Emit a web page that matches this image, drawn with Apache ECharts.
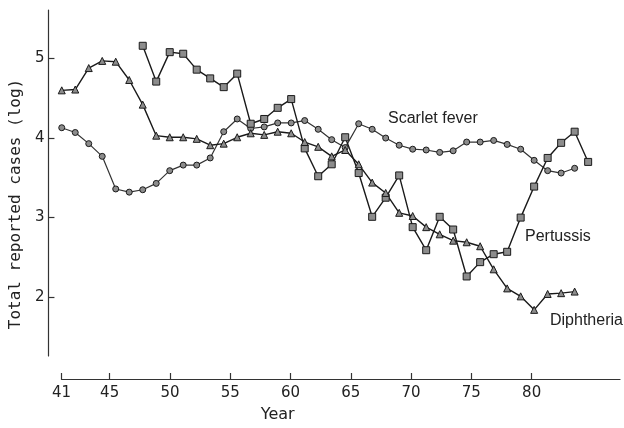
<!DOCTYPE html>
<html>
<head>
<meta charset="utf-8">
<script src="https://cdn.jsdelivr.net/npm/echarts@6/dist/echarts.min.js"></script>
<style>html,body{margin:0;padding:0;background:#fff}#c{width:624px;height:428px}</style>
</head>
<body>
<div id="c"></div>
<script>
// Data (year, log of total reported cases)
const scarletYears = [41,42,43,44,45,46,47,48,49,50,51,52,53,54,55,56,57,58,59,60,61,62,63,64,65,66,67,68,69,70,71,72,73,74,75,76,77,78,79];
const scarletValues = [4.13,4.07,3.93,3.77,3.36,3.32,3.35,3.43,3.59,3.66,3.66,3.75,4.08,4.24,4.12,4.14,4.19,4.19,4.22,4.11,3.98,3.88,4.18,4.11,4.00,3.91,3.86,3.85,3.82,3.84,3.95,3.95,3.97,3.92,3.86,3.72,3.59,3.56,3.62];

const pertussisYears = [47,48,49,50,51,52,53,54,55,56,57,58,59,60,61,62,63,64,65,66,67,68,69,70,71,72,73,74,75,76,77,78,79,80];
const pertussisValues = [5.16,4.71,5.08,5.06,4.86,4.75,4.64,4.81,4.18,4.24,4.38,4.49,3.87,3.52,3.67,4.01,3.56,3.01,3.25,3.53,2.88,2.59,3.01,2.85,2.26,2.44,2.54,2.57,3.00,3.39,3.75,3.94,4.08,3.70];

const diphtheriaYears = [41,42,43,44,45,46,47,48,49,50,51,52,53,54,55,56,57,58,59,60,61,62,63,64,65,66,67,68,69,70,71,72,73,74,75,76,77,78,79];
const diphtheriaValues = [4.60,4.61,4.88,4.97,4.96,4.73,4.42,4.03,4.01,4.01,3.99,3.91,3.93,4.01,4.06,4.04,4.08,4.06,3.95,3.89,3.77,3.85,3.67,3.44,3.31,3.06,3.02,2.88,2.79,2.71,2.69,2.64,2.35,2.11,2.01,1.84,2.04,2.05,2.07];

const xTickLabels = [41,45,50,55,60,65,70,75,80];
const yTickLabels = [2,3,4,5];

const seriesNames = ['Scarlet fever', 'Pertussis', 'Diphtheria'];

function pairs(xs, ys){ return xs.map((x,i)=>[x, ys[i]]); }

const FONT = 'DejaVu Sans';
const ink = '#222';
const chart = echarts.init(document.getElementById('c'), null, {renderer:'canvas'});

const markerStyle = {color:'#8c8c8c', borderColor:'#1a1a1a', borderWidth:1};
const annFont = '16px "Liberation Sans"';

chart.setOption({
  animation:false,
  backgroundColor:'#fff',
  grid:{left:58, right:4, top:10, bottom:68, containLabel:false},
  xAxis:[
    {
      type:'value', min:41, max:87.33, offset:23, position:'bottom',
      name:'Year', nameLocation:'middle', nameGap:28,
      nameTextStyle:{fontFamily:FONT, fontSize:16, color:ink, padding:[0,126,0,0]},
      axisLine:{show:true, lineStyle:{color:'#333', width:1.2}},
      axisTick:{show:true, inside:true, length:6, lineStyle:{color:'#333', width:1.2}, customValues:xTickLabels},
      axisLabel:{show:true, margin:7, fontFamily:FONT, fontSize:15, color:ink, customValues:xTickLabels},
      splitLine:{show:false}
    },
    {
      type:'value', min:40.978, max:82.36, show:false, position:'top',
      splitLine:{show:false}
    }
  ],
  yAxis:{
    type:'value', min:1.26, max:5.61, offset:13,
    name:'Total reported cases (log)', nameLocation:'middle', nameGap:22, nameRotate:90,
    nameTextStyle:{fontFamily:'DejaVu Sans Mono', fontSize:16, color:ink, padding:[0,42,0,0]},
    axisLine:{show:true, lineStyle:{color:'#333', width:1.2}},
    axisTick:{show:true, inside:true, length:6, lineStyle:{color:'#333', width:1.2}, customValues:yTickLabels},
    axisLabel:{show:true, margin:4, fontFamily:FONT, fontSize:15, color:ink, customValues:yTickLabels},
    splitLine:{show:false}
  },
  series:[
    {name:seriesNames[0], type:'line', xAxisIndex:1, data:pairs(scarletYears, scarletValues),
     symbol:'circle', symbolSize:6, lineStyle:{color:'#333', width:1.2}, itemStyle:markerStyle},
    {name:seriesNames[1], type:'line', xAxisIndex:1, data:pairs(pertussisYears, pertussisValues),
     symbol:'rect', symbolSize:7, lineStyle:{color:'#1a1a1a', width:1.4}, itemStyle:markerStyle},
    {name:seriesNames[2], type:'line', xAxisIndex:1, data:pairs(diphtheriaYears, diphtheriaValues),
     symbol:'triangle', symbolSize:7, lineStyle:{color:'#1a1a1a', width:1.4}, itemStyle:markerStyle}
  ],
  graphic:[
    {type:'text', x:388, y:119, style:{text:seriesNames[0], font:annFont, fill:ink, verticalAlign:'middle'}},
    {type:'text', x:525, y:237, style:{text:seriesNames[1], font:annFont, fill:ink, verticalAlign:'middle'}},
    {type:'text', x:550, y:321, style:{text:seriesNames[2], font:annFont, fill:ink, verticalAlign:'middle'}}
  ]
});
</script>
</body>
</html>
